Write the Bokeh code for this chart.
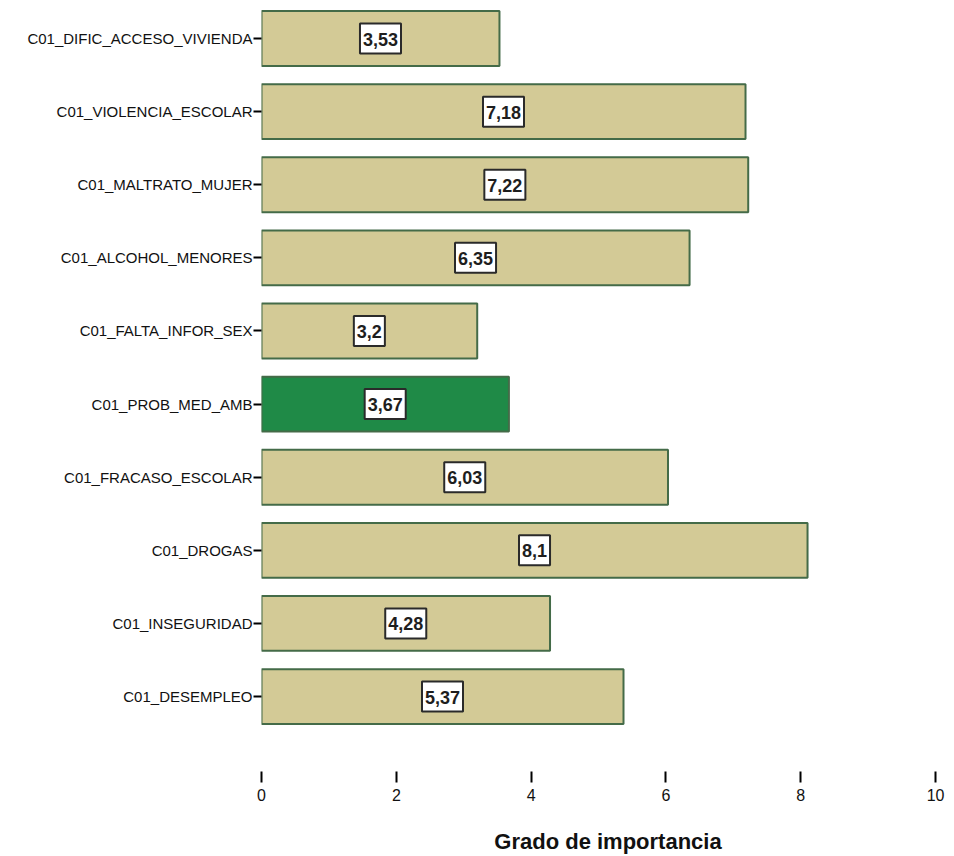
from bokeh.plotting import figure
from bokeh.models import Range1d, FixedTicker, ColumnDataSource
from bokeh.core.properties import value
from bokeh.embed import file_html
from bokeh.resources import INLINE

categories = ["C01_DIFIC_ACCESO_VIVIENDA", "C01_VIOLENCIA_ESCOLAR", "C01_MALTRATO_MUJER",
              "C01_ALCOHOL_MENORES", "C01_FALTA_INFOR_SEX", "C01_PROB_MED_AMB",
              "C01_FRACASO_ESCOLAR", "C01_DROGAS", "C01_INSEGURIDAD", "C01_DESEMPLEO"]
values = [3.53, 7.18, 7.22, 6.35, 3.2, 3.67, 6.03, 8.1, 4.28, 5.37]
highlight = "C01_PROB_MED_AMB"
x_ticks = [0, 2, 4, 6, 8, 10]
x_title = "Grado de importancia"

BASE = "#D3CA96"
HL = "#1F8A47"
FONT = "Liberation Sans"

n = len(categories)
ypos = [n - 1 - i for i in range(n)]
src = ColumnDataSource(dict(
    y=ypos,
    v=values,
    half=[v / 2 for v in values],
    lab=[str(v).replace(".", ",") for v in values],
    col=[HL if c == highlight else BASE for c in categories],
))

p = figure(width=954, height=856, output_backend="svg", toolbar_location=None,
           x_range=Range1d(0, 10.28), y_range=Range1d(-1.025, n - 1 + 0.52),
           min_border_left=261, min_border_top=0, min_border_right=0, min_border_bottom=0)
p.outline_line_color = None
p.xgrid.visible = False
p.ygrid.visible = False

p.hbar(y="y", right="v", left=0, height=0.75, source=src,
       fill_color="col", line_color="#446B48", line_width=2)

p.text(x="half", y="y", text="lab", source=src,
       text_font=value(FONT), text_font_size="18px", text_font_style="bold",
       text_align="center", text_baseline="middle", text_color="#1e1e1e",
       background_fill_color="white", border_line_color="#2a2a2a", border_line_width=2,
       padding=dict(left=3, right=3, top=9, bottom=8))

xa = p.xaxis[0]
xa.ticker = FixedTicker(ticks=x_ticks)
xa.axis_line_color = None
xa.major_tick_out = 11
xa.major_tick_in = 0
xa.major_tick_line_width = 2
xa.minor_tick_line_color = None
xa.major_label_standoff = 6
xa.major_label_text_font = FONT
xa.major_label_text_font_size = "16px"
xa.major_label_text_color = "#111111"
xa.axis_label = x_title
xa.axis_label_text_font = FONT
xa.axis_label_text_font_style = "bold"
xa.axis_label_text_font_size = "22px"
xa.axis_label_standoff = 25
xa.axis_label_text_color = "#111111"

ya = p.yaxis[0]
ya.ticker = FixedTicker(ticks=ypos)
ya.major_label_overrides = {y: c for y, c in zip(ypos, categories)}
ya.axis_line_color = None
ya.major_tick_out = 8
ya.major_tick_in = 0
ya.major_tick_line_width = 2
ya.minor_tick_line_color = None
ya.major_label_standoff = 1
ya.major_label_text_font = FONT
ya.major_label_text_font_size = "15px"
ya.major_label_text_color = "#111111"

open("out.html", "w").write(file_html(p, INLINE))
